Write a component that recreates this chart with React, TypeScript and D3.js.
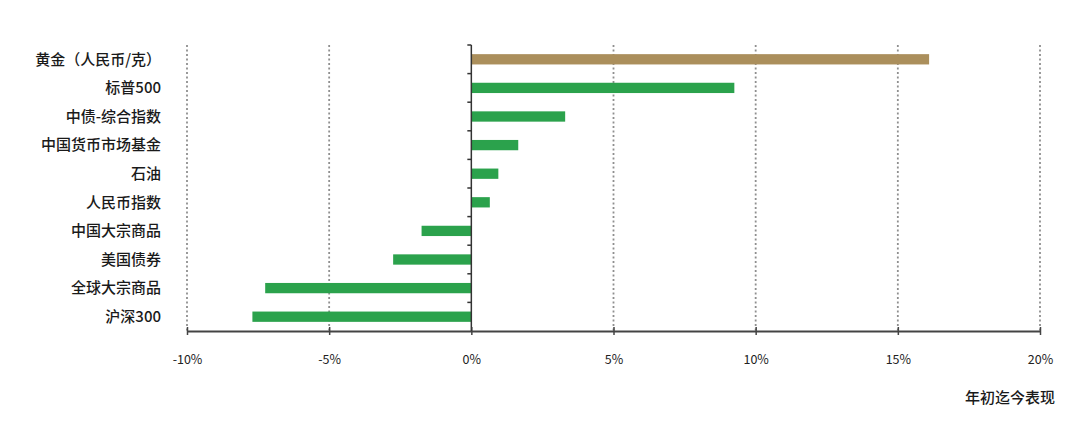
import * as d3 from 'd3';
import {useEffect, useRef} from 'react';

const categories = [
    '黄金（人民币/克）',
    '标普500',
    '中债-综合指数',
    '中国货币市场基金',
    '石油',
    '人民币指数',
    '中国大宗商品',
    '美国债券',
    '全球大宗商品',
    '沪深300',
];
const returns = [16.1, 9.25, 3.3, 1.65, 0.95, 0.65, -1.75, -2.75, -7.25, -7.7];
const xTicks = [-10, -5, 0, 5, 10, 15, 20];
const axisTitle = '年初迄今表现';

const width = 1080;
const height = 440;
const font = '"Noto Sans CJK SC", "Noto Sans", sans-serif';

export default function App() {
    const ref = useRef<SVGSVGElement>(null);

    useEffect(() => {
        const svg = d3.select(ref.current);
        svg.selectAll('*').remove();

        const margins = {top: 45, right: 40, bottom: 109, left: 187};

        const xScale = d3
            .scaleLinear()
            .domain([-10, 20])
            .range([margins.left, width - margins.right]);

        const yScale = d3
            .scaleBand<string>()
            .domain(categories)
            .range([margins.top, height - margins.bottom])
            .paddingInner(0.64)
            .paddingOuter(0.32);

        const top = margins.top;
        const bottom = height - margins.bottom;

        // dotted grid lines
        svg.append('g')
            .selectAll('line')
            .data(xTicks.filter((t) => t !== 0))
            .join('line')
            .attr('x1', (d) => xScale(d))
            .attr('x2', (d) => xScale(d))
            .attr('y1', top)
            .attr('y2', bottom)
            .attr('stroke', '#8f8f8f')
            .attr('stroke-width', 1.8)
            .attr('stroke-dasharray', '2,2.5');

        // bars
        svg.append('g')
            .selectAll('rect')
            .data(returns)
            .join('rect')
            .attr('x', (d) => xScale(Math.min(0, d)))
            .attr('y', (_, i) => yScale(categories[i])!)
            .attr('width', (d) => Math.abs(xScale(d) - xScale(0)))
            .attr('height', yScale.bandwidth())
            .attr('fill', (_, i) => (i === 0 ? '#ab8f5c' : '#2ba24c'));

        // x axis
        const xAxis = d3
            .axisBottom(xScale)
            .tickValues(xTicks)
            .tickSizeInner(4)
            .tickSizeOuter(0)
            .tickFormat((d) => `${d}%`);
        const gx = svg.append('g').attr('transform', `translate(0, ${bottom})`).call(xAxis);
        gx.select('.domain').attr('stroke', '#444').attr('stroke-width', 2);
        gx.selectAll('.tick line')
            .attr('stroke', '#444')
            .attr('stroke-width', 1.5)
            .attr('y1', -4);
        gx.selectAll('.tick text')
            .attr('y', 24)
            .attr('fill', '#222')
            .style('font-family', font)
            .style('font-size', '12.5px');

        // y axis at zero with ticks at band boundaries
        const x0 = xScale(0);
        svg.append('line')
            .attr('x1', x0)
            .attr('x2', x0)
            .attr('y1', top)
            .attr('y2', bottom)
            .attr('stroke', '#333')
            .attr('stroke-width', 1.5);
        const step = yScale.step();
        const boundaries = d3.range(categories.length).map((i) => top + i * step);
        svg.append('g')
            .selectAll('line')
            .data(boundaries)
            .join('line')
            .attr('x1', x0 - 4)
            .attr('x2', x0)
            .attr('y1', (d) => d)
            .attr('y2', (d) => d)
            .attr('stroke', '#333')
            .attr('stroke-width', 1.5);

        // category labels
        svg.append('g')
            .selectAll('text')
            .data(categories)
            .join('text')
            .attr('x', 161)
            .attr('y', (d) => yScale(d)! + yScale.bandwidth() / 2)
            .attr('dy', '0.35em')
            .attr('text-anchor', 'end')
            .attr('fill', '#1a1a1a')
            .style('font-family', font)
            .style('font-size', '15px')
            .style('font-weight', 500)
            .text((d) => d);

        svg.append('text')
            .attr('x', 1055)
            .attr('y', 403)
            .attr('text-anchor', 'end')
            .attr('fill', '#1a1a1a')
            .style('font-family', font)
            .style('font-size', '15px')
            .style('font-weight', 500)
            .text(axisTitle);
    }, []);

    return (
        <svg
            ref={ref}
            width={width}
            height={height}
            style={{position: 'absolute', left: 0, top: 0, background: '#fff'}}
        ></svg>
    );
}
